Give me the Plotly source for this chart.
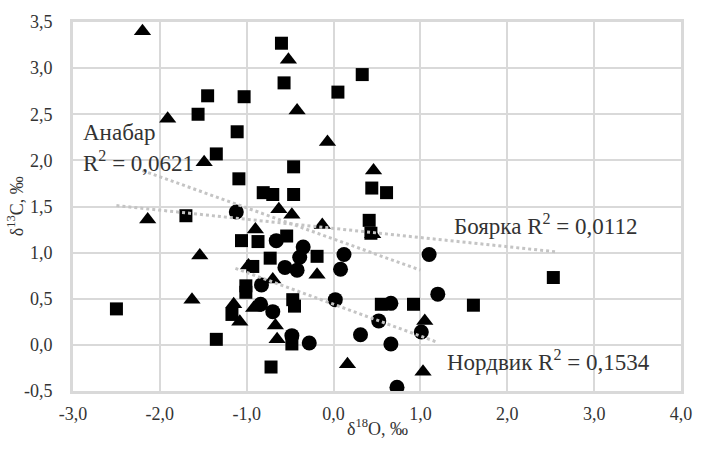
import plotly.graph_objects as go

# Боярка (squares)
boyarka_x = [-0.60, -0.57, -1.45, -1.03, 0.05, 0.33, -1.56, -1.11, -1.35, -0.46,
             -1.09, -0.81, -0.70, -0.46, -1.70, -1.06, -0.87, -0.54, -0.19, -0.73,
             -0.93, -1.01, -1.01, -1.17, -1.35, -0.47, -0.45, -0.48, -0.72, -2.50,
             0.44, 0.61, 0.41, 0.43, 2.53, 1.61, 0.92, 0.55]
boyarka_y = [3.27, 2.84, 2.70, 2.69, 2.74, 2.93, 2.50, 2.31, 2.07, 1.93,
             1.80, 1.65, 1.63, 1.63, 1.40, 1.13, 1.12, 1.18, 0.96, 0.94,
             0.85, 0.64, 0.57, 0.33, 0.06, 0.49, 0.42, 0.01, -0.24, 0.39,
             1.70, 1.65, 1.35, 1.21, 0.73, 0.43, 0.44, 0.44]

# Анабар (triangles)
anabar_x = [-2.20, -0.52, -0.42, -1.91, -0.07, -1.49, 0.46, -0.63, -0.48, -0.13,
            -2.14, -0.90, -1.54, -0.98, -0.19, -0.70, -1.63, -1.15, -0.92, -1.08,
            -0.67, -0.65, 0.16, 1.05, 1.03, 0.45]
anabar_y = [3.40, 3.09, 2.54, 2.45, 2.20, 1.98, 1.89, 1.47, 1.41, 1.30,
            1.36, 1.25, 0.97, 0.86, 0.76, 0.71, 0.49, 0.44, 0.40, 0.25,
            0.21, 0.06, -0.21, 0.26, -0.29, 1.20]

# Нордвик (circles)
nordvik_x = [-1.12, -0.66, -0.35, -0.39, -0.42, -0.56, 0.12, 0.08, -0.83, -0.84,
             -0.70, -0.48, -0.28, 0.02, 1.10, 1.20, 0.66, 0.52, 1.01, 0.31,
             0.66, 0.73]
nordvik_y = [1.44, 1.13, 1.06, 0.95, 0.81, 0.84, 0.98, 0.82, 0.65, 0.44,
             0.36, 0.10, 0.02, 0.49, 0.98, 0.55, 0.45, 0.26, 0.14, 0.11,
             0.01, -0.46]

# Trend lines (endpoints)
anabar_trend_x = [-2.20, 1.00]
anabar_trend_y = [1.89, 0.81]
boyarka_trend_x = [-2.50, 2.55]
boyarka_trend_y = [1.51, 1.01]
nordvik_trend_x = [-1.13, 1.19]
nordvik_trend_y = [0.83, 0.03]

x_ticks = [-3, -2, -1, 0, 1, 2, 3, 4]
x_tick_labels = ["-3,0", "-2,0", "-1,0", "0,0", "1,0", "2,0", "3,0", "4,0"]
y_ticks = [-0.5, 0, 0.5, 1, 1.5, 2, 2.5, 3, 3.5]
y_tick_labels = ["-0,5", "0,0", "0,5", "1,0", "1,5", "2,0", "2,5", "3,0", "3,5"]

FONT = "Liberation Serif"
TXT = "#333333"
GRID = "#d9d9d9"
TREND = "#c4c4c4"

fig = go.Figure()
fig.add_trace(go.Scatter(x=boyarka_x, y=boyarka_y, mode="markers", name="Боярка",
                         marker=dict(symbol="square", size=13, color="black")))
fig.add_trace(go.Scatter(x=anabar_x, y=anabar_y, mode="markers", name="Анабар",
                         marker=dict(symbol="triangle-up", size=15, color="black")))
fig.add_trace(go.Scatter(x=nordvik_x, y=nordvik_y, mode="markers", name="Нордвик",
                         marker=dict(symbol="circle", size=15, color="black")))
for tx, ty in [(anabar_trend_x, anabar_trend_y), (boyarka_trend_x, boyarka_trend_y),
               (nordvik_trend_x, nordvik_trend_y)]:
    fig.add_trace(go.Scatter(x=tx, y=ty, mode="lines",
                             line=dict(color=TREND, width=3, dash="dot"),
                             hoverinfo="skip"))

ann_font = dict(family=FONT, size=23, color=TXT)
annotations = [
    dict(x=-2.91, y=2.30, text="Анабар", xanchor="left", yanchor="middle"),
    dict(x=-2.91, y=1.99, text="R<sup>2</sup> = 0,0621", xanchor="left", yanchor="middle"),
    dict(x=1.36, y=1.30, text="Боярка R<sup>2</sup> = 0,0112", xanchor="left", yanchor="middle"),
    dict(x=1.28, y=-0.17, text="Нордвик R<sup>2</sup> = 0,1534", xanchor="left", yanchor="middle"),
]
for a in annotations:
    a.update(xref="x", yref="y", showarrow=False, font=ann_font)

title_font = dict(family=FONT, size=18, color=TXT)
annotations += [
    dict(xref="paper", yref="paper", x=0.5, y=-0.099, text="δ<sup>18</sup>O, ‰",
         xanchor="center", yanchor="middle", showarrow=False, font=title_font),
    dict(xref="paper", yref="paper", x=-0.094, y=0.5, text="δ<sup>13</sup>C, ‰",
         textangle=-90, xanchor="center", yanchor="middle", showarrow=False, font=title_font),
]

fig.update_layout(
    width=704, height=450,
    margin=dict(l=73, r=15, t=17, b=59),
    paper_bgcolor="white", plot_bgcolor="white",
    showlegend=False,
    font=dict(family=FONT, size=18, color=TXT),
    annotations=annotations,
)
fig.update_xaxes(range=[-3, 4], tickvals=x_ticks, ticktext=x_tick_labels,
                 showgrid=True, gridcolor=GRID, gridwidth=1.5, zeroline=False,
                 showline=True, linecolor=GRID, linewidth=3, mirror=True,
                 ticks="", ticklabelstandoff=4,
                 tickfont=dict(family=FONT, size=18, color=TXT))
fig.update_yaxes(range=[-0.5, 3.5], tickvals=y_ticks, ticktext=y_tick_labels,
                 showgrid=True, gridcolor=GRID, gridwidth=1.5, zeroline=False,
                 showline=True, linecolor=GRID, linewidth=3, mirror=True,
                 ticks="", ticklabelstandoff=14,
                 tickfont=dict(family=FONT, size=18, color=TXT))

fig.write_html("out.html")
